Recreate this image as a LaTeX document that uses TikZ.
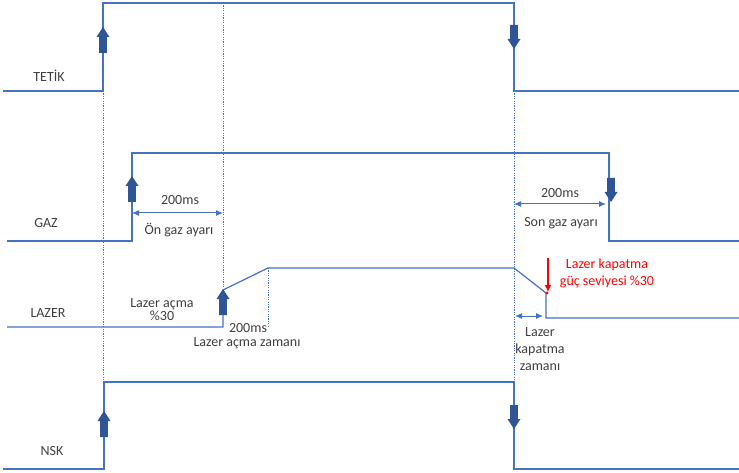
\documentclass[tikz,border=0pt]{standalone}
\usepackage{fontspec}
\setmainfont{Carlito}
\usetikzlibrary{arrows.meta}
\definecolor{sigblue}{RGB}{68,114,196}
\definecolor{arrblue}{RGB}{47,85,151}
\definecolor{txtgray}{RGB}{64,64,64}
\tikzset{
  sigline/.style={draw=sigblue,line width=1.2pt,line join=miter},
  dotline/.style={draw=sigblue,line width=1pt,dash pattern=on 1.2pt off 1.2pt},
  dimarrow/.style={draw=sigblue,line width=1pt,{Latex[length=7pt,width=6pt]}-{Latex[length=7pt,width=6pt]}},
  lbl/.style={font=\fontsize{14}{17}\selectfont,text=txtgray,inner sep=0pt,align=center},
  redlbl/.style={font=\fontsize{14}{17}\selectfont,text=red,inner sep=0pt,align=center},
  uparr/.pic={\fill[arrblue] (0,0) -- (6.5,10) -- (3.8,10) -- (3.8,26) -- (-3.8,26) -- (-3.8,10) -- (-6.5,10) -- cycle;},
  downarr/.pic={\fill[arrblue] (0,0) -- (6.5,-10) -- (3.8,-10) -- (3.8,-24) -- (-3.8,-24) -- (-3.8,-10) -- (-6.5,-10) -- cycle;}
}
\begin{document}
\begin{tikzpicture}[x=1pt,y=-1pt]
\useasboundingbox (0,0) rectangle (739,473);
% dotted guides
\draw[dotline] (103,91) -- (103,382);
\draw[dotline] (223,3) -- (223,290);
\draw[dotline] (514,91) -- (514,382);
\draw[dotline] (268,268) -- (268,326);
% signals
\draw[sigline] (3,91) -- (103,91) -- (103,3) -- (514,3) -- (514,91) -- (739,91);
\draw[sigline] (7,241) -- (132,241) -- (132,153) -- (609,153) -- (609,241) -- (739,241);
\draw[sigline] (7,327) -- (223,327) -- (223,290) -- (268,268) -- (514,268) -- (546,293) -- (546,318) -- (739,318);
\draw[sigline] (3,469) -- (104,469) -- (104,382) -- (514,382) -- (514,469) -- (739,469);
% block arrows
\pic at (103,27) {uparr};
\pic at (514,49) {downarr};
\pic at (132,176) {uparr};
\pic at (611,202) {downarr};
\pic at (223,289) {uparr};
\pic at (104,411) {uparr};
\pic at (514,429) {downarr};
% dimension arrows
\coordinate (g1a) at (132,213); \coordinate (g1b) at (223,213);
\draw[dimarrow] (g1a) -- (g1b);
\coordinate (g2a) at (514,204); \coordinate (g2b) at (606,204);
\draw[dimarrow] (g2a) -- (g2b);
\coordinate (l1a) at (515,316); \coordinate (l1b) at (543,316);
\draw[dimarrow] (l1a) -- (l1b);
% red marker
\coordinate (rtop) at (548,258); \coordinate (rbot) at (548,292);
\draw[red,line width=1.2pt,-{Latex[length=7pt,width=7pt]}] (rtop) -- (rbot);
\fill[red] (547,293) circle (1.6pt);
% labels
\node[lbl] (tetik) at (49,76) {TETİK};
\node[lbl] (gaz) at (46,223) {GAZ};
\node[lbl] (lazer) at (48,313) {LAZER};
\node[lbl] (nsk) at (52,451) {NSK};
\node[lbl] (t200a) at (180,200) {200ms};
\node[lbl] (ongaz) at (179,230) {Ön gaz ayarı};
\node[lbl] (t200b) at (560,193) {200ms};
\node[lbl] (songaz) at (561,223) {Son gaz ayarı};
\node[lbl] (acma) at (162,310) {Lazer açma\\[-4pt]\%30};
\node[lbl] (t200c) at (248,328) {200ms};
\node[lbl] (acmaz) at (247,343) {Lazer açma zamanı};
\node[lbl] (kapz) at (540,349) {Lazer\\kapatma\\zamanı};
\node[redlbl] (kapr) at (607,273) {Lazer kapatma\\güç seviyesi \%30};
\end{tikzpicture}
\end{document}
